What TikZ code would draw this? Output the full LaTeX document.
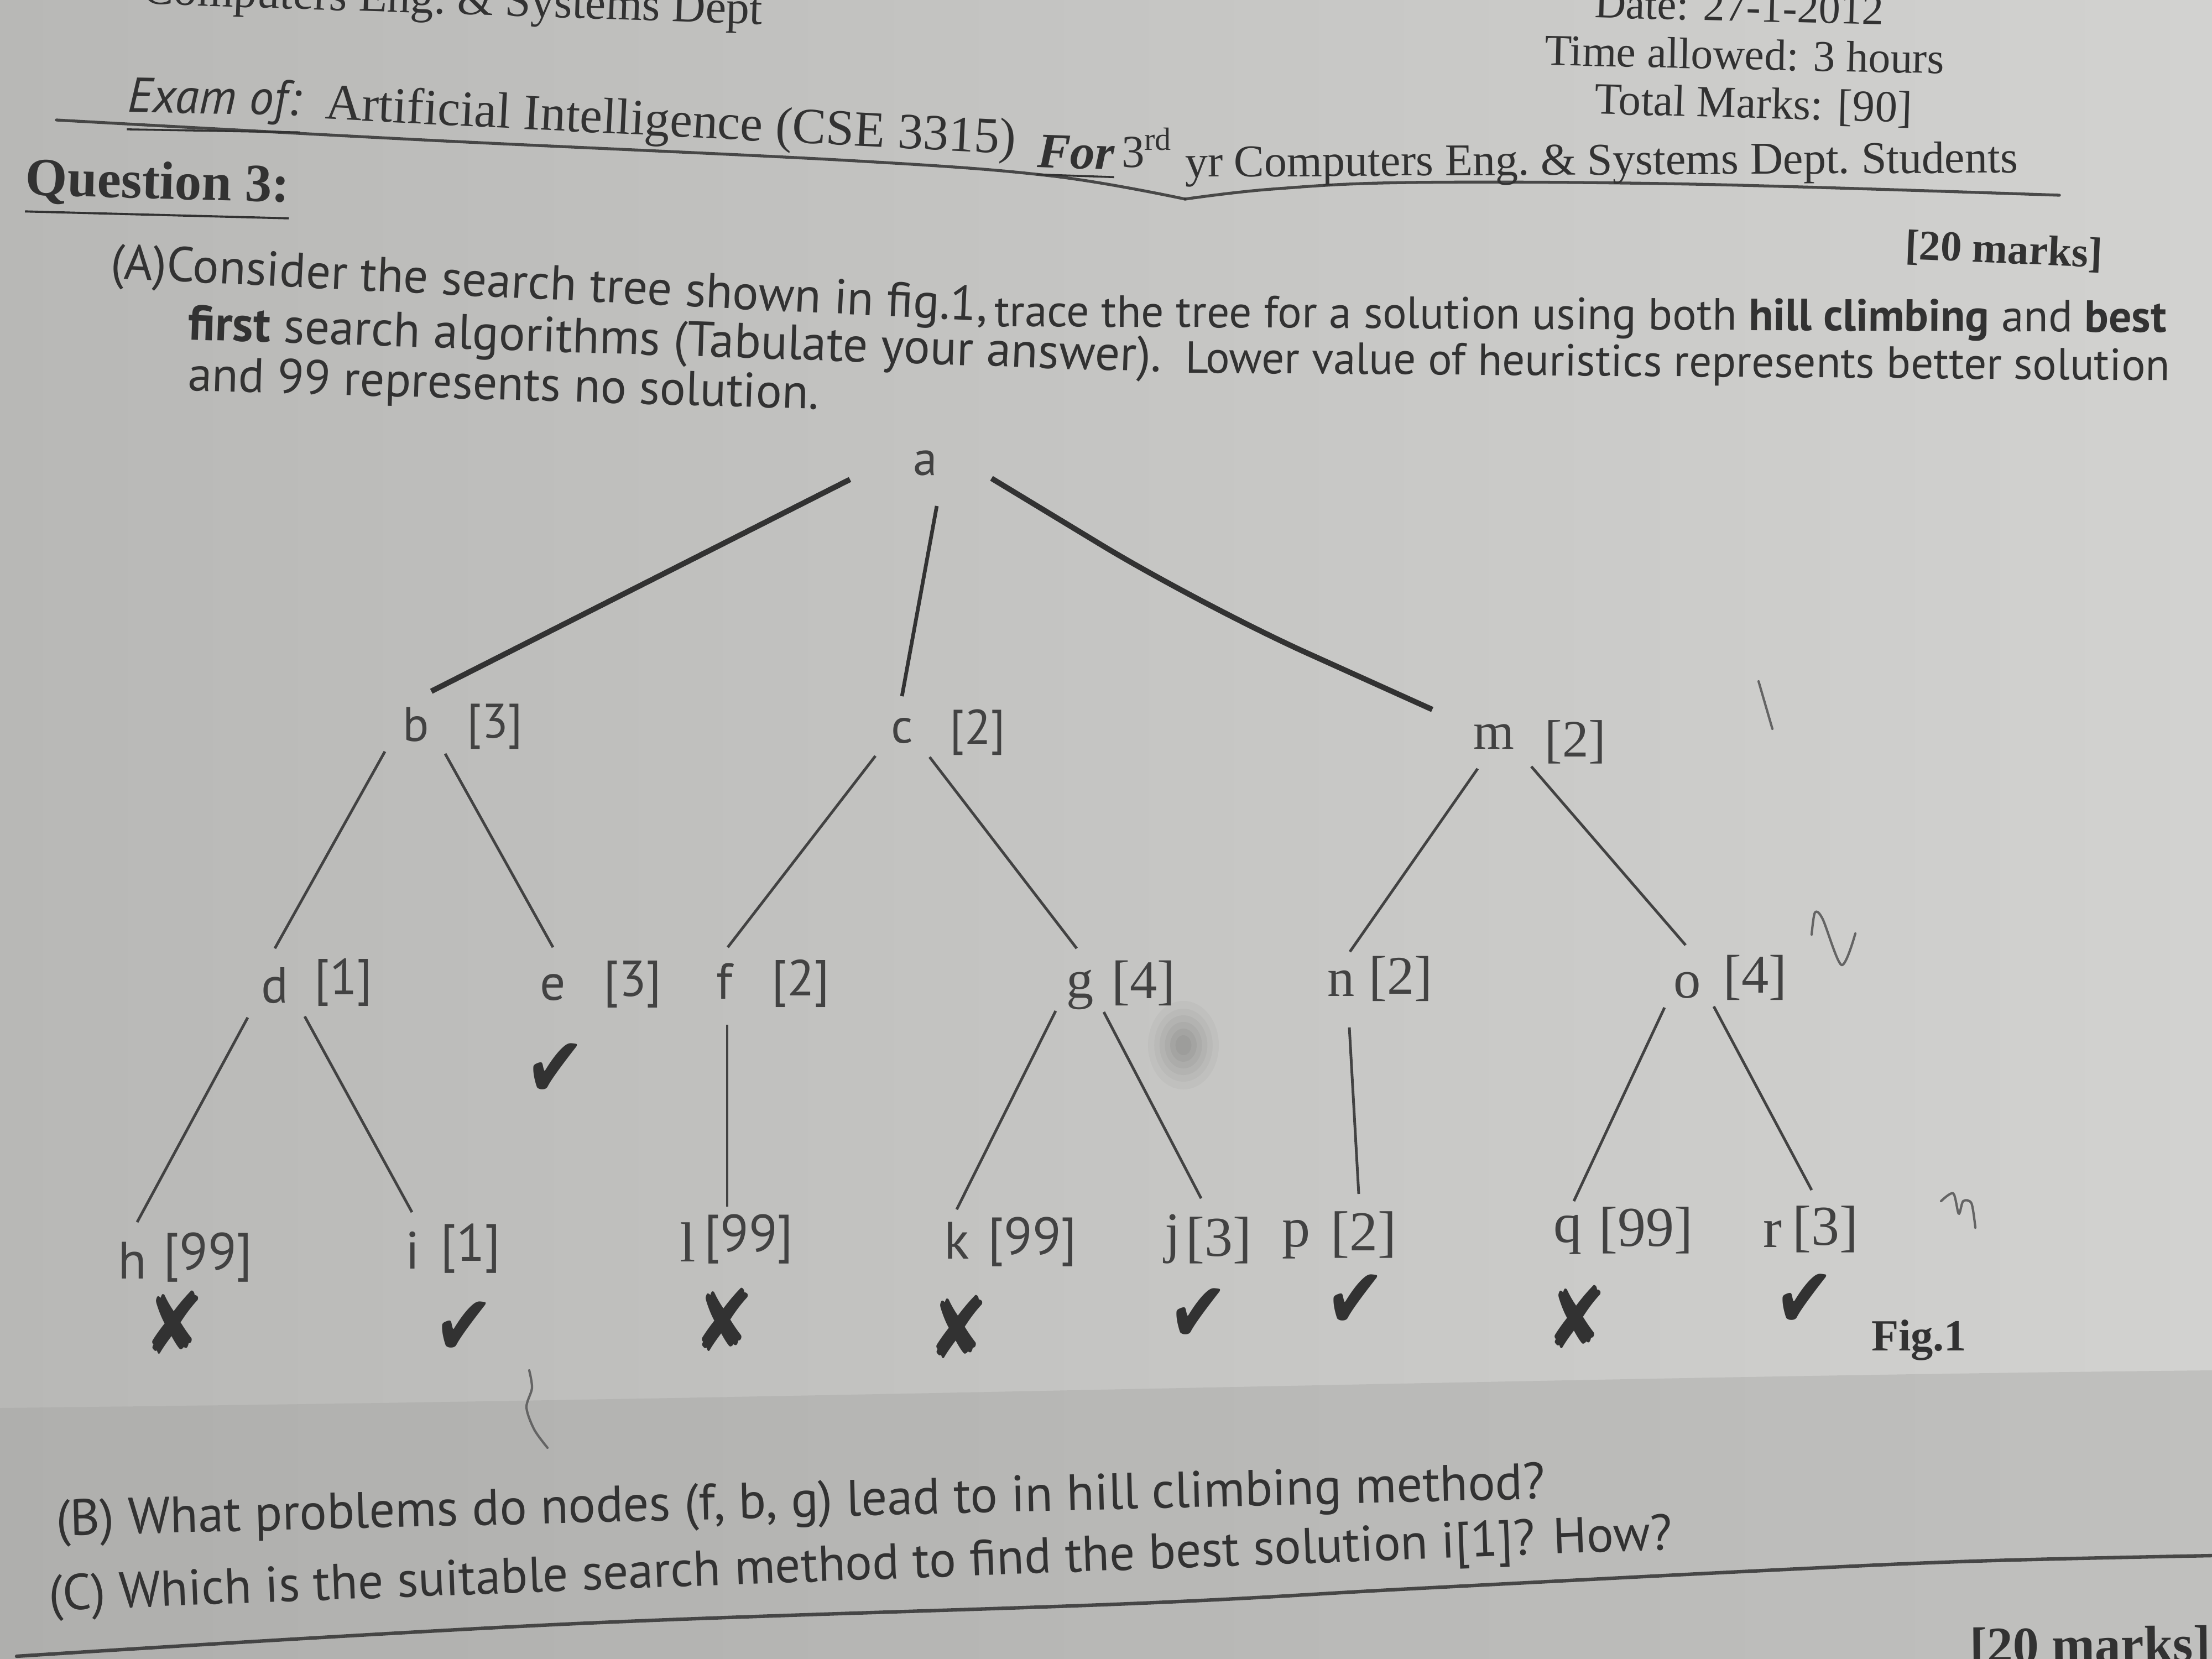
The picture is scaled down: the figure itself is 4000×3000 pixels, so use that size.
\documentclass[tikz,border=0pt]{standalone}
\usepackage{fontspec}
\setmainfont{Liberation Serif}
\newfontfamily\sansf{PT Sans}
\newfontfamily\symf{DejaVu Sans}
\usetikzlibrary{calc}
\definecolor{ink}{RGB}{50,50,50}
\definecolor{ink2}{RGB}{66,66,66}
\definecolor{pencil}{RGB}{100,100,100}
\definecolor{bgL}{RGB}{184,184,182}
\definecolor{bgR}{RGB}{210,210,208}
\definecolor{bgD}{RGB}{160,160,158}
\newcommand\fitw[2]{\resizebox{#1cm}{!}{#2}}
\begin{document}
\begin{tikzpicture}[x=0.01cm,y=-0.01cm,
  txt/.style={inner sep=0pt, outer sep=0pt, anchor=base west, text=ink},
  lbl/.style={inner sep=0pt, text=ink2, font=\sansf\fontsize{#1}{#1}\selectfont},
  lbl/.default=25,
  lbls/.style={inner sep=0pt, text=ink2, font=\fontsize{#1}{#1}\selectfont},
  lbls/.default=27,
  okmark/.style={inner sep=0pt, text=ink, font=\symf\fontsize{46}{46}\selectfont, xscale=0.78, rotate=-4},
  nomark/.style={inner sep=0pt, text=ink, font=\symf\fontsize{44}{44}\selectfont, xscale=0.85},
  thin edge/.style={draw=ink2, line width=1.4pt},
  mid edge/.style={draw=ink, line width=1.9pt},
  thick edge/.style={draw=ink, line width=2.8pt},
  pencilmark/.style={draw=pencil, line width=1.2pt, line cap=round, line join=round},
  rule/.style={draw=ink, line width=1.5pt, opacity=0.85, line cap=round}
]
\useasboundingbox (0,0) rectangle (4000,3000);
% paper
\shade[left color=bgL, right color=bgR] (0,0) rectangle (4000,3000);
\fill[bgD, opacity=0.35] (0,2546) .. controls (1500,2530) and (2800,2490) .. (4000,2478) -- (4000,3000) -- (0,3000) -- cycle;
% soft smudge
\foreach \rr/\oo in {80/0.04, 66/0.04, 54/0.05, 42/0.05, 30/0.06, 18/0.06}
  \fill[ink, opacity=\oo] (2140,1890) ellipse ({\rr*0.8} and \rr);

% ---------- header ----------
\node[txt, anchor=base east, rotate=-1.9] (hdept) at (1378,44) {\fitw{11.2}{Computers Eng.\ \& Systems Dept}};
\node[txt, rotate=-1.4] (hdate) at (2883,32) {\fitw{5.23}{Date: 27-1-2012}};
\node[txt, rotate=-1.2] (htime) at (2793,118) {\fitw{7.22}{Time allowed: 3 hours}};
\node[txt, rotate=-1.5] (hmarks) at (2883,206) {\fitw{5.74}{Total Marks: [90]}};
\node[txt, rotate=-1] (hexam) at (230,203) {\fitw{3.13}{\sansf\itshape\underline{Exam of:}}};
\node[txt, rotate=-2.9] (hai) at (587,215) {\fitw{12.5}{Artificial Intelligence (CSE 3315)}};
\node[txt, rotate=-2] (hfor) at (1875,302) {\fitw{1.4}{\underline{\textbf{\textit{For}}}}};
\node[txt] (hthird) at (2028,302) {\fitw{0.94}{3\textsuperscript{rd}}};
\node[txt, rotate=0.3] (hyr) at (2143,320) {\fitw{15.05}{yr Computers Eng.\ \& Systems Dept.\ Students}};
\draw[rule] plot[smooth, tension=0.6] coordinates {(102,217) (765,253) (1531,290) (1900,318) (2143,360)};
\draw[rule] plot[smooth, tension=0.6] coordinates {(2143,360) (2300,342) (2551,330) (3061,333) (3724,353)};
\node[txt, rotate=-1.5] (hq) at (46,353) {\fitw{4.77}{\textbf{\underline{Question 3:}}}};
\node[txt, rotate=-2.5] (hm20) at (3444,468) {\fitw{3.57}{\textbf{[20 marks]}}};

% ---------- question text ----------
\node[txt, rotate=-2.8] (qa1) at (199,503) {\fitw{15.87}{\sansf (A)Consider the search tree shown in fig.1,}};
\node[txt, rotate=-0.3] (qa2) at (1798,590) {\fitw{21.18}{\sansf trace the tree for a solution using both \textbf{hill climbing} and \textbf{best}}};
\node[txt, rotate=-1.9] (qb1) at (339,614) {\fitw{17.6}{\sansf \textbf{first} search algorithms (Tabulate your answer).}};
\node[txt, rotate=-0.45] (qb2) at (2143,674) {\fitw{17.8}{\sansf Lower value of heuristics represents better solution}};
\node[txt, rotate=-1.7] (qc) at (339,706) {\fitw{11.41}{\sansf and 99 represents no solution.}};

% ---------- tree nodes ----------
\node[lbl=25] (a) at (1673,838) {a};
\node[lbl=25] (b) at (752,1310) {b};   \node[lbl=25] (bh) at (895,1314) {[3]};
\node[lbl=25] (c) at (1631,1322) {c};  \node[lbl=25] (ch) at (1768,1324) {[2]};
\node[lbls=27] (m) at (2701,1332) {m}; \node[lbls=27] (mh) at (2849,1342) {[2]};

\node[lbl=26] (d) at (497,1782) {d};   \node[lbl=26] (dh) at (621,1776) {[1]};
\node[lbl=26] (e) at (1000,1786) {e};  \node[lbl=26] (eh) at (1144,1780) {[3]};
\node[lbl=26] (f) at (1310,1774) {f};  \node[lbl=26] (fh) at (1448,1778) {[2]};
\node[lbls=28] (g) at (1953,1790) {g}; \node[lbls=28] (gh) at (2068,1778) {[4]};
\node[lbls=28] (n) at (2425,1778) {n}; \node[lbls=28] (nh) at (2533,1770) {[2]};
\node[lbls=28] (o) at (3051,1782) {o}; \node[lbls=28] (oh) at (3174,1768) {[4]};

\node[lbl=27] (h) at (239,2279) {h};   \node[lbl=27] (hh) at (376,2274) {[99]};
\node[lbl=27] (i) at (746,2261) {i};   \node[lbl=27] (ih) at (851,2258) {[1]};
\node[lbls=29] (l) at (1244,2246) {l}; \node[lbl=27] (lh) at (1354,2241) {[99]};
\node[lbl=27] (k) at (1730,2243) {k};  \node[lbl=27] (kh) at (1867,2246) {[99]};
\node[lbls=29] (j) at (2121,2241) {j}; \node[lbls=29] (jh) at (2204,2243) {[3]};
\node[lbls=29] (p) at (2344,2241) {p}; \node[lbls=29] (ph) at (2466,2233) {[2]};
\node[lbls=29] (q) at (2835,2233) {q}; \node[lbls=29] (qh) at (2976,2225) {[99]};
\node[lbls=29] (r) at (3205,2231) {r}; \node[lbls=29] (rh) at (3301,2223) {[3]};

% ---------- edges ----------
\coordinate (amk) at (2171,1094);
\draw[thick edge] ($(a)+(-136,29)$) -- ($(b)+(28,-60)$);
\draw[mid edge] ($(a)+(21,77)$) -- ($(c)+(0,-63)$);
\draw[thick edge, rounded corners=60] ($(a)+(120,27)$) -- (amk) -- ($(m)+(-111,-49)$);

\draw[thin edge] ($(b)+(-56,49)$) -- ($(d)+(0,-67)$);
\draw[thin edge] ($(b)+(53,53)$) -- ($(e)+(0,-73)$);
\draw[thin edge] ($(c)+(-48,45)$) -- ($(f)+(6,-61)$);
\draw[thin edge] ($(c)+(50,47)$) -- ($(g)+(-6,-75)$);
\draw[thin edge] ($(m)+(-29,58)$) -- ($(n)+(16,-57)$);
\draw[thin edge] ($(m)+(68,54)$) -- ($(o)+(-3,-73)$);

\draw[thin edge] ($(d)+(-49,58)$) -- ($(h)+(9,-69)$);
\draw[thin edge] ($(d)+(54,56)$) -- ($(i)+(-1,-69)$);
\draw[thin edge] ($(f)+(5,79)$) -- ($(l)+(71,-64)$);
\draw[thin edge] ($(g)+(-44,38)$) -- ($(k)+(0,-56)$);
\draw[thin edge] ($(g)+(43,40)$) -- ($(j)+(51,-74)$);
\draw[thin edge] ($(n)+(15,80)$) -- ($(p)+(113,-82)$);
\draw[thin edge] ($(o)+(-41,40)$) -- ($(q)+(11,-61)$);
\draw[thin edge] ($(o)+(48,38)$) -- ($(r)+(71,-79)$);

% ---------- marks ----------
\node[okmark] (ok-e) at (1003,1935) {✔};
\node[nomark] (no-h) at (315,2391) {✘};
\node[okmark] (ok-i) at (838,2402) {✔};
\node[nomark] (no-l) at (1309,2386) {✘};
\node[nomark] (no-k) at (1733,2399) {✘};
\node[okmark] (ok-j) at (2166,2378) {✔};
\node[okmark] (ok-p) at (2450,2353) {✔};
\node[nomark] (no-q) at (2851,2381) {✘};
\node[okmark] (ok-r) at (3262,2352) {✔};
\node[txt] (fig) at (3384,2442) {\fitw{1.72}{\textbf{Fig.1}}};

% ---------- pencil marks ----------
\draw[pencilmark] (3180,1232) -- (3205,1318);
\draw[pencilmark] plot[smooth] coordinates {(3276,1690) (3282,1650) (3296,1662) (3330,1745) (3355,1688)};
\draw[pencilmark] plot[smooth] coordinates {(3510,2172) (3532,2158) (3542,2195) (3550,2172) (3565,2176) (3572,2220)};
\draw[pencilmark] plot[smooth] coordinates {(957,2478) (962,2510) (952,2545) (966,2585) (990,2618)};

% ---------- bottom questions ----------
\node[txt, rotate=1.43] (qB) at (102,2777) {\fitw{26.92}{\sansf (B) What problems do nodes (f, b, g) lead to in hill climbing method?}};
\node[txt, rotate=2.15] (qC) at (89,2912) {\fitw{29.36}{\sansf (C) Which is the suitable search method to find the best solution i[1]? How?}};
\draw[rule, line width=1.8pt] plot[smooth, tension=0.6] coordinates {(30,2995) (1020,2937) (2041,2900) (2551,2873) (3189,2840) (3571,2823) (4000,2813)};
\node[txt, rotate=0.5] (bm20) at (3562,3008) {\fitw{4.35}{\textbf{[20 marks]}}};
\end{tikzpicture}
\end{document}
